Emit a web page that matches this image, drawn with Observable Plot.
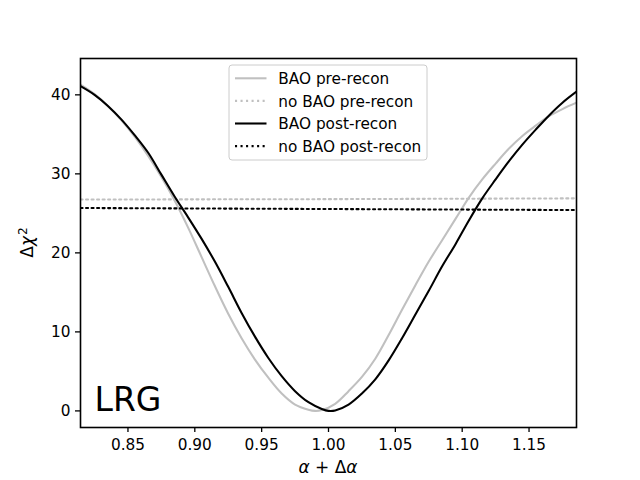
<!DOCTYPE html>
<html><head><meta charset="utf-8">
<script src="https://cdn.jsdelivr.net/npm/d3@7"></script>
<script src="https://cdn.jsdelivr.net/npm/@observablehq/plot@0.6"></script>
<style>body{margin:0;background:#fff} #chart{width:640px;height:480px}</style>
</head><body><div id="chart"></div>
<script>
// ---- data ----
const alphaPre = [0.8145, 0.825, 0.835, 0.845, 0.855, 0.865, 0.875, 0.885, 0.895, 0.905, 0.915, 0.925, 0.935, 0.945, 0.955, 0.965, 0.975, 0.985, 0.99, 0.995, 1.005, 1.015, 1.025, 1.035, 1.045, 1.055, 1.065, 1.075, 1.085, 1.095, 1.105, 1.115, 1.125, 1.135, 1.145, 1.155, 1.165, 1.175, 1.1855];
const chi2Pre  = [41.3, 40.1, 38.6, 36.8, 34.7, 32.3, 29.6, 26.6, 23.2, 19.5, 15.8, 12.3, 9.2, 6.5, 4.2, 2.2, 0.8, 0.15, 0.0, 0.1, 0.9, 2.5, 4.3, 6.6, 9.6, 12.8, 15.9, 18.9, 21.6, 24.3, 27.0, 29.3, 31.3, 33.2, 34.8, 36.1, 37.3, 38.2, 39.0];
const alphaPost = [0.8145, 0.825, 0.835, 0.845, 0.855, 0.865, 0.875, 0.885, 0.895, 0.905, 0.915, 0.925, 0.935, 0.945, 0.955, 0.965, 0.975, 0.985, 0.995, 1.0, 1.005, 1.015, 1.025, 1.035, 1.045, 1.055, 1.065, 1.075, 1.085, 1.095, 1.105, 1.115, 1.125, 1.135, 1.145, 1.155, 1.165, 1.175, 1.1855];
const chi2Post  = [41.1, 40.0, 38.6, 36.9, 34.9, 32.7, 29.9, 27.1, 24.5, 21.8, 18.9, 15.7, 12.4, 9.4, 6.7, 4.4, 2.5, 1.1, 0.25, 0.0, 0.05, 0.8, 2.2, 4.0, 6.4, 9.2, 12.2, 15.2, 18.3, 21.1, 24.1, 26.9, 29.3, 31.6, 33.7, 35.6, 37.4, 39.0, 40.4];
const alphaFlat = [0.8145, 1.0, 1.1855];
const chi2NoBaoPre  = [26.75, 26.8, 26.9];
const chi2NoBaoPost = [25.68, 25.55, 25.42];
const xTicks = [0.85, 0.90, 0.95, 1.00, 1.05, 1.10, 1.15];
const yTicks = [0, 10, 20, 30, 40];
const seriesNames = ["BAO pre-recon", "no BAO pre-recon", "BAO post-recon", "no BAO post-recon"];
const seriesColors = ["silver", "silver", "black", "black"];
const seriesDashed = [false, true, false, true];
const panelLabel = "LRG";

// ---- build tables ----
const toRows = (xs, ys) => xs.map((a, i) => ({a, c: ys[i]}));
const pre = toRows(alphaPre, chi2Pre);
const post = toRows(alphaPost, chi2Post);
const noPre = toRows(alphaFlat, chi2NoBaoPre);
const noPost = toRows(alphaFlat, chi2NoBaoPost);

const W = 640, H = 480, ML = 80, MR = 64, MT = 58, MB = 53;
const FS = 15.3, LFS = 17, LW = 2.08, DASH = "2.08,3.44";

const chart = Plot.plot({
  width: W, height: H,
  marginLeft: ML, marginRight: MR, marginTop: MT, marginBottom: MB,
  style: {fontFamily: "'DejaVu Sans', sans-serif", fontSize: FS + "px", background: "white", color: "black"},
  x: {domain: [0.8145, 1.1855]},
  y: {domain: [-2.1, 44.6]},
  marks: [
    Plot.line(pre, {x: "a", y: "c", stroke: seriesColors[0], strokeWidth: LW, curve: "catmull-rom", clip: true}),
    Plot.line(noPre, {x: "a", y: "c", stroke: seriesColors[1], strokeWidth: LW, strokeDasharray: DASH, clip: true}),
    Plot.line(post, {x: "a", y: "c", stroke: seriesColors[2], strokeWidth: LW, curve: "catmull-rom", clip: true}),
    Plot.line(noPost, {x: "a", y: "c", stroke: seriesColors[3], strokeWidth: LW, strokeDasharray: DASH, clip: true}),
    Plot.frame({stroke: "black", strokeWidth: 1.6}),
    Plot.axisX({ticks: xTicks, tickFormat: d3.format(".2f"), tickSize: 5, tickPadding: 6.5, label: null, strokeWidth: 1.3}),
    Plot.axisY({ticks: yTicks, tickFormat: d3.format("d"), tickSize: 5, tickPadding: 5, label: null, strokeWidth: 1.3}),
    Plot.text([panelLabel], {frameAnchor: "bottom-left", dx: 14, dy: -17, lineAnchor: "bottom", textAnchor: "start", fontSize: 33})
  ]
});
document.getElementById("chart").appendChild(chart);

const svg = d3.select(chart);
const cx = ML + (W - ML - MR) / 2;

// x label: α + Δα
const xl = svg.append("text").attr("x", cx).attr("y", 473).attr("text-anchor", "middle")
  .attr("fill", "black").style("font-size", LFS + "px").style("font-family", "'DejaVu Sans', sans-serif");
xl.append("tspan").attr("font-style", "italic").text("α");
xl.append("tspan").text(" + Δ");
xl.append("tspan").attr("font-style", "italic").text("α");

// y label: Δχ²
const yl = svg.append("text").attr("transform", `translate(33,${MT + (H - MT - MB) / 2}) rotate(-90)`)
  .attr("text-anchor", "middle").attr("fill", "black")
  .style("font-size", LFS + "px").style("font-family", "'DejaVu Sans', sans-serif");
yl.append("tspan").text("Δ");
yl.append("tspan").attr("font-style", "italic").text("χ");
yl.append("tspan").attr("font-size", "0.72em").attr("dy", "-0.5em").attr("dx", "0.08em").text("2");

// legend (upper center)
const lgW = 198, lgTop = MT + 7, rowH = 22.6;
const lgX = cx - lgW / 2;
const lg = svg.append("g").attr("text-anchor", "start")
  .style("font-family", "'DejaVu Sans', sans-serif").style("font-size", FS + "px");
lg.append("rect").attr("x", lgX).attr("y", lgTop).attr("width", lgW).attr("height", 95)
  .attr("rx", 3).attr("fill", "white").attr("fill-opacity", 0.8).attr("stroke", "#cccccc").attr("stroke-width", 1);
seriesNames.forEach((name, i) => {
  const yc = lgTop + 13.3 + i * rowH;
  lg.append("line").attr("x1", lgX + 6).attr("x2", lgX + 37.5).attr("y1", yc).attr("y2", yc)
    .attr("stroke", seriesColors[i]).attr("stroke-width", LW)
    .attr("stroke-dasharray", seriesDashed[i] ? DASH : null);
  lg.append("text").attr("x", lgX + 49.3).attr("y", yc + 5.7).attr("text-anchor", "start")
    .attr("fill", "black").text(name);
});
</script>
</body></html>
